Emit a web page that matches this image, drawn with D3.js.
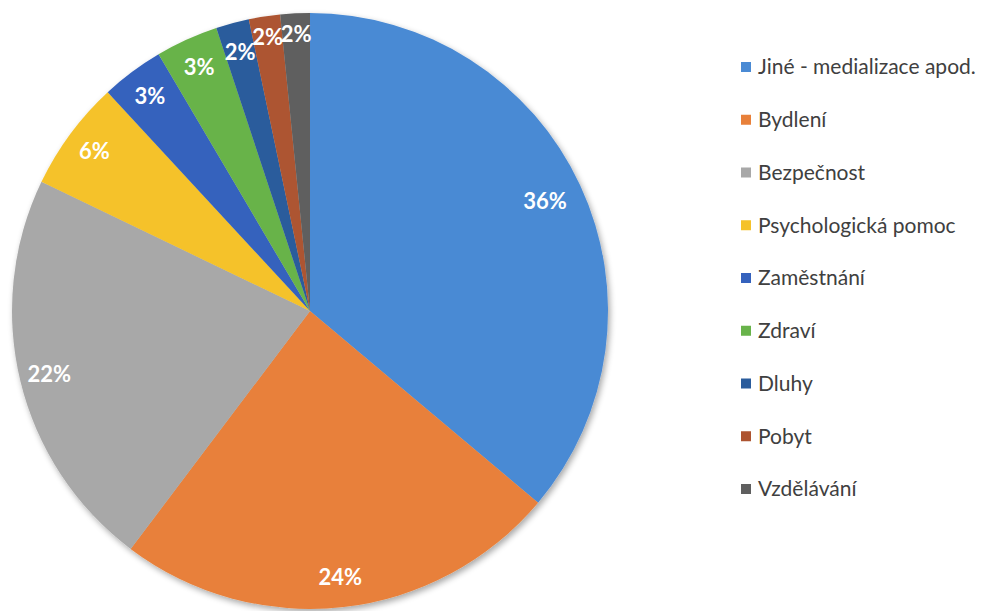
<!DOCTYPE html>
<html><head><meta charset="utf-8">
<script src="https://cdn.jsdelivr.net/npm/d3@7"></script>
<style>html,body{margin:0;padding:0;background:#fff;}svg{display:block;}</style>
</head><body>
<script>
const categories = ["Jiné - medializace apod.","Bydlení","Bezpečnost","Psychologická pomoc","Zaměstnání","Zdraví","Dluhy","Pobyt","Vzdělávání"];
const values = [36.2, 24.2, 21.9, 6.0, 3.4, 3.4, 1.8, 1.7, 1.6];
const colors = ["#4a8ad4","#e8803a","#a8a8a8","#f5c22a","#3562bd","#68b34a","#2a5c9c","#ad5430","#5f5f5f"];

const W = 991, H = 611;
const cx = 310, cy = 311, R = 298;
const svg = d3.select("body").append("svg").attr("width", W).attr("height", H);

const defs = svg.append("defs");
const f = defs.append("filter").attr("id","sh").attr("x","-10%").attr("y","-10%").attr("width","130%").attr("height","130%");
f.append("feGaussianBlur").attr("in","SourceAlpha").attr("stdDeviation",3).attr("result","b");
f.append("feOffset").attr("in","b").attr("dx",2).attr("dy",3).attr("result","o");
f.append("feComponentTransfer").attr("in","o").attr("result","o2").append("feFuncA").attr("type","linear").attr("slope",0.35);
const m = f.append("feMerge"); m.append("feMergeNode").attr("in","o2"); m.append("feMergeNode").attr("in","SourceGraphic");

const pie = d3.pie().sort(null).value(d => d);
const arcs = pie(values);
const total = d3.sum(values);
const arc = d3.arc().innerRadius(0).outerRadius(R);
const g = svg.append("g").attr("transform", `translate(${cx},${cy})`);
g.append("g").attr("filter","url(#sh)").selectAll("path").data(arcs).join("path")
  .attr("d", arc).attr("fill", (d,i) => colors[i]);

g.selectAll("text").data(arcs).join("text")
  .attr("transform", d => {
    const a = (d.startAngle + d.endAngle) / 2;
    const span = d.endAngle - d.startAngle;
    const r = span < 0.11 ? R * 0.93 : (span > 2 ? R * 0.87 : R * 0.9);
    return `translate(${Math.sin(a) * r},${-Math.cos(a) * r})`;
  })
  .attr("text-anchor","middle").attr("dy","0.35em")
  .attr("font-family","Lato, 'Open Sans', sans-serif").attr("font-weight","bold")
  .attr("font-size", 22).attr("fill","#fff")
  .text(d => Math.round(d.value / total * 100) + "%");

const lg = svg.append("g");
const rows = lg.selectAll("g").data(categories).join("g")
  .attr("transform", (d,i) => `translate(741,${67 + i * 52.75})`);
rows.append("rect").attr("x",0).attr("y",-5).attr("width",10).attr("height",10).attr("fill",(d,i)=>colors[i]);
rows.append("text").attr("x",17).attr("dy","0.35em")
  .attr("font-family","Lato, 'Open Sans', sans-serif").attr("font-size",21).attr("fill","#404040")
  .text(d => d);
</script>
</body></html>
